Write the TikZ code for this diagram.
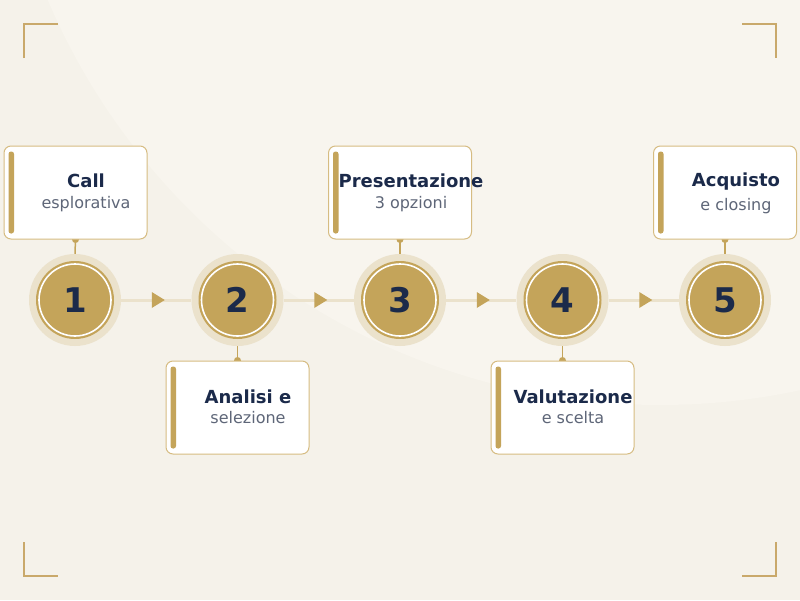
\documentclass[tikz,border=0pt]{standalone}
\usepackage{fontspec}
\setmainfont{DejaVu Sans}
\usetikzlibrary{calc}
\definecolor{bgc}{HTML}{F5F2EA}
\definecolor{bgl}{HTML}{F8F5EE}
\definecolor{gold}{HTML}{C4A45A}
\definecolor{halo}{HTML}{EBE2CC}
\definecolor{boxline}{HTML}{D6BC82}
\definecolor{navy}{HTML}{1B2A4A}
\definecolor{subg}{HTML}{5E6678}
\definecolor{bracket}{HTML}{C9A96B}
\pgfdeclarelayer{back}
\pgfdeclarelayer{mid}
\pgfsetlayers{back,mid,main}
\begin{document}
\begin{tikzpicture}[x=1pt,y=-1pt,
 halonode/.style={circle, fill=halo, minimum size=92pt, inner sep=0pt},
 disc/.style={circle, fill=gold, minimum size=78pt, inner sep=0pt, text=navy, font=\bfseries\fontsize{34}{34}\selectfont},
 ring/.style={draw=white, line width=1.6pt},
 card/.style={rectangle, rounded corners=7pt, fill=white, draw=boxline, line width=1pt, minimum width=143pt, minimum height=93pt, inner sep=0pt},
 accent/.style={fill=gold, rounded corners=2.5pt},
 ttl/.style={anchor=base, text=navy, font=\bfseries\fontsize{18}{21}\selectfont, inner sep=0pt},
 subt/.style={anchor=base, text=subg, font=\fontsize{16}{19}\selectfont, inner sep=0pt},
 flowline/.style={draw=halo, line width=3pt},
 stem/.style={draw=gold, line width=1.5pt},
 brk/.style={draw=bracket, line width=2pt},
]
\useasboundingbox (0,0) rectangle (800,600);

% halos
\foreach \i/\x in {1/75,2/237.5,3/400,4/562.5,5/725}{
  \node[halonode] (h\i) at (\x,300) {};
}

% cards
\node[card] (b1) at (75.5,192.5) {};
\node[card] (b2) at (237.5,407.5) {};
\node[card] (b3) at (400,192.5) {};
\node[card] (b4) at (562.5,407.5) {};
\node[card] (b5) at (725,192.5) {};
\foreach \i in {1,...,5}{
  \fill[accent] ($(b\i.north west)+(5,6)$) rectangle ($(b\i.south west)+(10.5,-6)$);
}

% card texts
\node[ttl]  (t1) at (86,187) {Call};
\node[subt] (s1) at (86,208.5) {esplorativa};
\node[ttl]  (t2) at (248,403) {Analisi e};
\node[subt] (s2) at (248,423.5) {selezione};
\node[ttl]  (t3) at (411,187) {Presentazione};
\node[subt] (s3) at (411,208.5) {3 opzioni};
\node[ttl]  (t4) at (573,403) {Valutazione};
\node[subt] (s4) at (573,423.5) {e scelta};
\node[ttl]  (t5) at (736,186) {Acquisto};
\node[subt] (s5) at (736,210) {e closing};

% discs
\foreach \i/\x in {1/75,2/237.5,3/400,4/562.5,5/725}{
  \node[disc] (c\i) at (\x,300) {\i};
  \draw[ring] (c\i.center) circle[radius=36pt];
}

% flow lines and arrow triangles
\begin{pgfonlayer}{mid}
\foreach \a/\b in {1/2,2/3,3/4,4/5}{
  \draw[flowline] (h\a) -- (h\b);
}
\foreach \i in {1,3,5}{
  \draw[stem] (b\i.south) -- (h\i.north);
  \fill[gold] (b\i.south) circle[radius=3.5pt];
}
\foreach \i in {2,4}{
  \draw[stem] (b\i.north) -- (h\i.south);
  \fill[gold] (b\i.north) circle[radius=3.5pt];
}
\end{pgfonlayer}
\foreach \a/\b in {1/2,2/3,3/4,4/5}{
  \fill[gold] ($(h\a)!0.5!(h\b)+(-4.5,-8)$) -- ($(h\a)!0.5!(h\b)+(8.5,0)$) -- ($(h\a)!0.5!(h\b)+(-4.5,8)$) -- cycle;
}

% background
\begin{pgfonlayer}{back}
\fill[bgc] (0,0) rectangle (800,600);
\begin{scope}
\clip (0,0) rectangle (800,600);
\fill[bgl] (660,-260) circle[radius=665pt];
\end{scope}
\draw[brk] (24,58) -- (24,24) -- (58,24);
\draw[brk] (742,24) -- (776,24) -- (776,58);
\draw[brk] (24,542) -- (24,576) -- (58,576);
\draw[brk] (742,576) -- (776,576) -- (776,542);
\end{pgfonlayer}
\end{tikzpicture}
\end{document}
